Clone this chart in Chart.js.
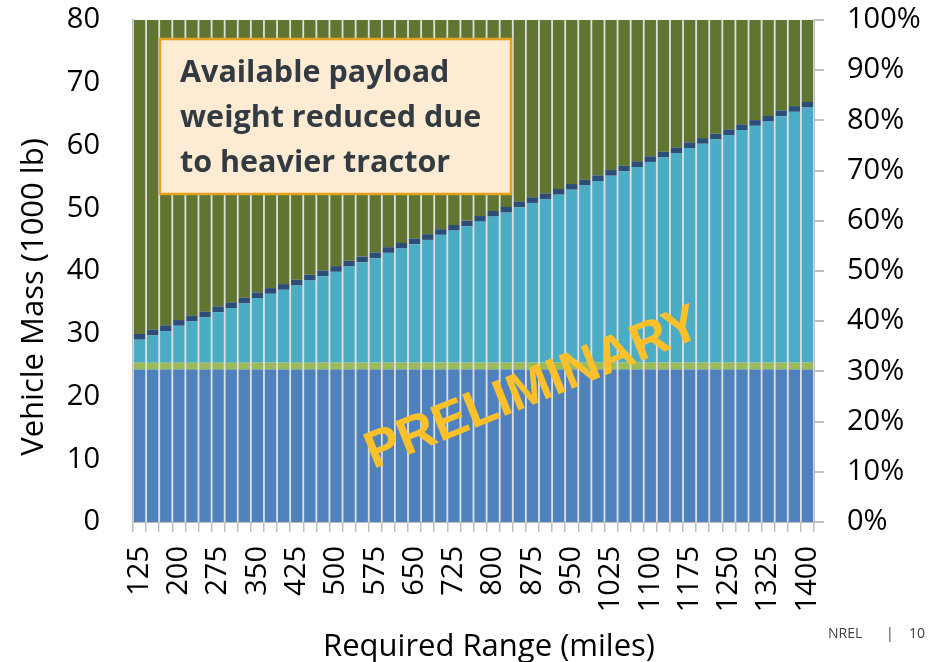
<!DOCTYPE html>
<html>
<head>
<meta charset="utf-8">
<title>Vehicle Mass vs Required Range</title>
<script src="https://cdn.jsdelivr.net/npm/chart.js@4.4.1/dist/chart.umd.min.js"></script>
<style>
    html, body { margin: 0; padding: 0; background: #ffffff; }
    #myChart { display: block; }
</style>
</head>
<body>
<canvas id="myChart" width="935" height="662"></canvas>
<script>
var myChart

// required range, miles (one bar every 25 miles)
var ranges = [125, 150, 175, 200, 225, 250, 275, 300, 325, 350, 375, 400, 425,
    450, 475, 500, 525, 550, 575, 600, 625, 650, 675, 700, 725, 750, 775, 800,
    825, 850, 875, 900, 925, 950, 975, 1000, 1025, 1050, 1075, 1100, 1125, 1150,
    1175, 1200, 1225, 1250, 1275, 1300, 1325, 1350, 1375, 1400]

// vehicle mass pieces, 1000 lb
var baseMass = [24.3, 24.3, 24.3, 24.3, 24.3, 24.3, 24.3, 24.3, 24.3, 24.3, 24.3, 24.3, 24.3,
    24.3, 24.3, 24.3, 24.3, 24.3, 24.3, 24.3, 24.3, 24.3, 24.3, 24.3, 24.3, 24.3,
    24.3, 24.3, 24.3, 24.3, 24.3, 24.3, 24.3, 24.3, 24.3, 24.3, 24.3, 24.3, 24.3,
    24.3, 24.3, 24.3, 24.3, 24.3, 24.3, 24.3, 24.3, 24.3, 24.3, 24.3, 24.3, 24.3]
var otherMass = [1.1, 1.1, 1.1, 1.1, 1.1, 1.1, 1.1, 1.1, 1.1, 1.1, 1.1, 1.1, 1.1,
    1.1, 1.1, 1.1, 1.1, 1.1, 1.1, 1.1, 1.1, 1.1, 1.1, 1.1, 1.1, 1.1,
    1.1, 1.1, 1.1, 1.1, 1.1, 1.1, 1.1, 1.1, 1.1, 1.1, 1.1, 1.1, 1.1,
    1.1, 1.1, 1.1, 1.1, 1.1, 1.1, 1.1, 1.1, 1.1, 1.1, 1.1, 1.1, 1.1]
var storageMass = [3.66, 4.34, 5.03, 5.88, 6.57, 7.20, 8.05, 8.69, 9.43, 10.28, 10.97, 11.61, 12.29,
    13.09, 13.78, 14.47, 15.32, 16.00, 16.64, 17.49, 18.18, 18.87, 19.56, 20.36, 21.04, 21.73,
    22.47, 23.27, 23.91, 24.75, 25.45, 26.08, 26.77, 27.56, 28.25, 28.94, 29.79, 30.47, 31.17,
    31.98, 32.70, 33.39, 34.19, 34.88, 35.56, 36.26, 37.06, 37.74, 38.42, 39.28, 39.97, 40.65]
var tankMass = [0.9, 0.9, 0.9, 0.9, 0.9, 0.9, 0.9, 0.9, 0.9, 0.9, 0.9, 0.9, 0.9,
    0.9, 0.9, 0.9, 0.9, 0.9, 0.9, 0.9, 0.9, 0.9, 0.9, 0.9, 0.9, 0.9,
    0.9, 0.9, 0.9, 0.9, 0.9, 0.9, 0.9, 0.9, 0.9, 0.9, 0.9, 0.9, 0.9,
    0.9, 0.9, 0.9, 0.9, 0.9, 0.9, 0.9, 0.9, 0.9, 0.9, 0.9, 0.9, 0.9]
var payloadMass = [50.04, 49.36, 48.67, 47.82, 47.13, 46.50, 45.65, 45.01, 44.27, 43.42, 42.73, 42.09, 41.41,
    40.61, 39.92, 39.23, 38.38, 37.70, 37.06, 36.21, 35.52, 34.83, 34.14, 33.34, 32.66, 31.97,
    31.23, 30.43, 29.79, 28.95, 28.25, 27.62, 26.93, 26.14, 25.45, 24.76, 23.91, 23.23, 22.53,
    21.72, 21.00, 20.31, 19.51, 18.82, 18.14, 17.44, 16.64, 15.96, 15.28, 14.42, 13.73, 13.05]

var massTicks = [0, 80, 10]
var percentTicks = [0, 100, 10]

var noteLines = ["Available payload", "weight reduced due", "to heavier tractor"]
var stampText = "PRELIMINARY"
var yTitle = "Vehicle Mass (1000 lb)"
var xTitle = "Required Range (miles)"

var axisGrey = '#bfbfbf'
var tickFont = { family: 'Open Sans', size: 29 }

function bar_set(label, data, color) {
    return {
        label: label,
        data: data,
        backgroundColor: color,
        borderWidth: 0,
        barPercentage: 0.86,
        categoryPercentage: 1.0,
        stack: 'mass'
    }
}

// keep the plot box where the slide had it
function no_pad(scale) {
    scale.paddingTop = 0
    scale.paddingBottom = 0
    scale.paddingLeft = 0
    scale.paddingRight = 0
}

var extras = {
    id: 'extras',
    beforeDatasetsDraw: function (chart) {
        var a = chart.chartArea
        var c = chart.ctx
        c.save()
        c.fillStyle = '#dedede'
        c.fillRect(a.left, a.top, a.right - a.left, a.bottom - a.top)
        c.restore()
    },
    afterDatasetsDraw: function (chart) {
        var c = chart.ctx
        c.save()
        // note box
        c.fillStyle = '#fdebd3'
        c.fillRect(160, 39, 351, 155)
        c.strokeStyle = '#e3a11d'
        c.lineWidth = 2.5
        c.strokeRect(160, 39, 351, 155)
        c.fillStyle = '#333b42'
        c.font = 'bold 30.5px "Open Sans"'
        c.textAlign = 'left'
        c.textBaseline = 'middle'
        for (var i = 0; i < noteLines.length; i++) {
            c.fillText(noteLines[i], 180, 73 + i * 45)
        }
        // stamp
        c.translate(533, 389)
        c.rotate(-22 * Math.PI / 180)
        c.fillStyle = '#fcc12a'
        c.font = 'bold 52px "Liberation Sans"'
        c.textAlign = 'center'
        c.fillText(stampText, 0, 0)
        c.restore()
    },
    afterDraw: function (chart) {
        var c = chart.ctx
        c.save()
        c.fillStyle = '#000000'
        c.font = '31px "Open Sans"'
        c.textAlign = 'center'
        c.textBaseline = 'middle'
        c.fillText(xTitle, 489, 647)
        c.translate(34, 297)
        c.rotate(-Math.PI / 2)
        c.fillText(yTitle, 0, 0)
        c.restore()

        c.save()
        c.fillStyle = '#404040'
        c.font = '14px "Open Sans"'
        c.textBaseline = 'middle'
        c.fillText('NREL', 828, 634)
        c.fillText('|', 886, 634)
        c.fillText('10', 909, 634)
        c.restore()
    }
}

function Graphic() {
    var ctx = document.getElementById('myChart')
    myChart = new Chart(ctx, {
        type: 'bar',
        data: {
            labels: ranges,
            datasets: [
                bar_set('Base tractor', baseMass, '#4f81bd'),
                bar_set('Other', otherMass, '#9bbb59'),
                bar_set('Energy storage', storageMass, '#4bacc6'),
                bar_set('Tank', tankMass, '#2c4d75'),
                bar_set('Payload', payloadMass, '#5f7530')
            ]
        },
        options: {
            responsive: false,
            animation: false,
            events: [],
            layout: { padding: { top: 20, left: 0, right: 0, bottom: 0 } },
            plugins: {
                legend: { display: false },
                tooltip: { enabled: false }
            },
            scales: {
                x: {
                    stacked: true,
                    grid: {
                        display: true,
                        drawOnChartArea: false,
                        offset: true,
                        tickLength: 10,
                        color: axisGrey,
                        lineWidth: 1.5
                    },
                    border: { display: true, color: axisGrey, width: 2 },
                    ticks: {
                        autoSkip: false,
                        minRotation: 90,
                        maxRotation: 90,
                        padding: 14,
                        color: '#000000',
                        font: tickFont,
                        callback: function (value, index) {
                            return index % 3 === 0 ? ranges[index] : ''
                        }
                    },
                    afterFit: function (scale) { scale.height = 140; no_pad(scale) }
                },
                y: {
                    stacked: true,
                    position: 'left',
                    min: massTicks[0],
                    max: massTicks[1],
                    grid: { display: false, drawTicks: false },
                    border: { display: true, color: axisGrey, width: 2 },
                    ticks: {
                        stepSize: massTicks[2],
                        padding: 33,
                        color: '#000000',
                        font: tickFont
                    },
                    afterFit: function (scale) { scale.width = 133; no_pad(scale) }
                },
                y1: {
                    position: 'right',
                    min: percentTicks[0],
                    max: percentTicks[1],
                    grid: {
                        display: true,
                        drawOnChartArea: false,
                        tickLength: 10,
                        color: axisGrey,
                        lineWidth: 2
                    },
                    border: { display: true, color: axisGrey, width: 2 },
                    ticks: {
                        stepSize: percentTicks[2],
                        padding: 23,
                        color: '#000000',
                        font: tickFont,
                        callback: function (value) { return value + '%' }
                    },
                    afterFit: function (scale) { scale.width = 121; no_pad(scale) }
                }
            }
        },
        plugins: [extras]
    })
}

window.addEventListener("load", Graphic)
</script>
</body>
</html>
